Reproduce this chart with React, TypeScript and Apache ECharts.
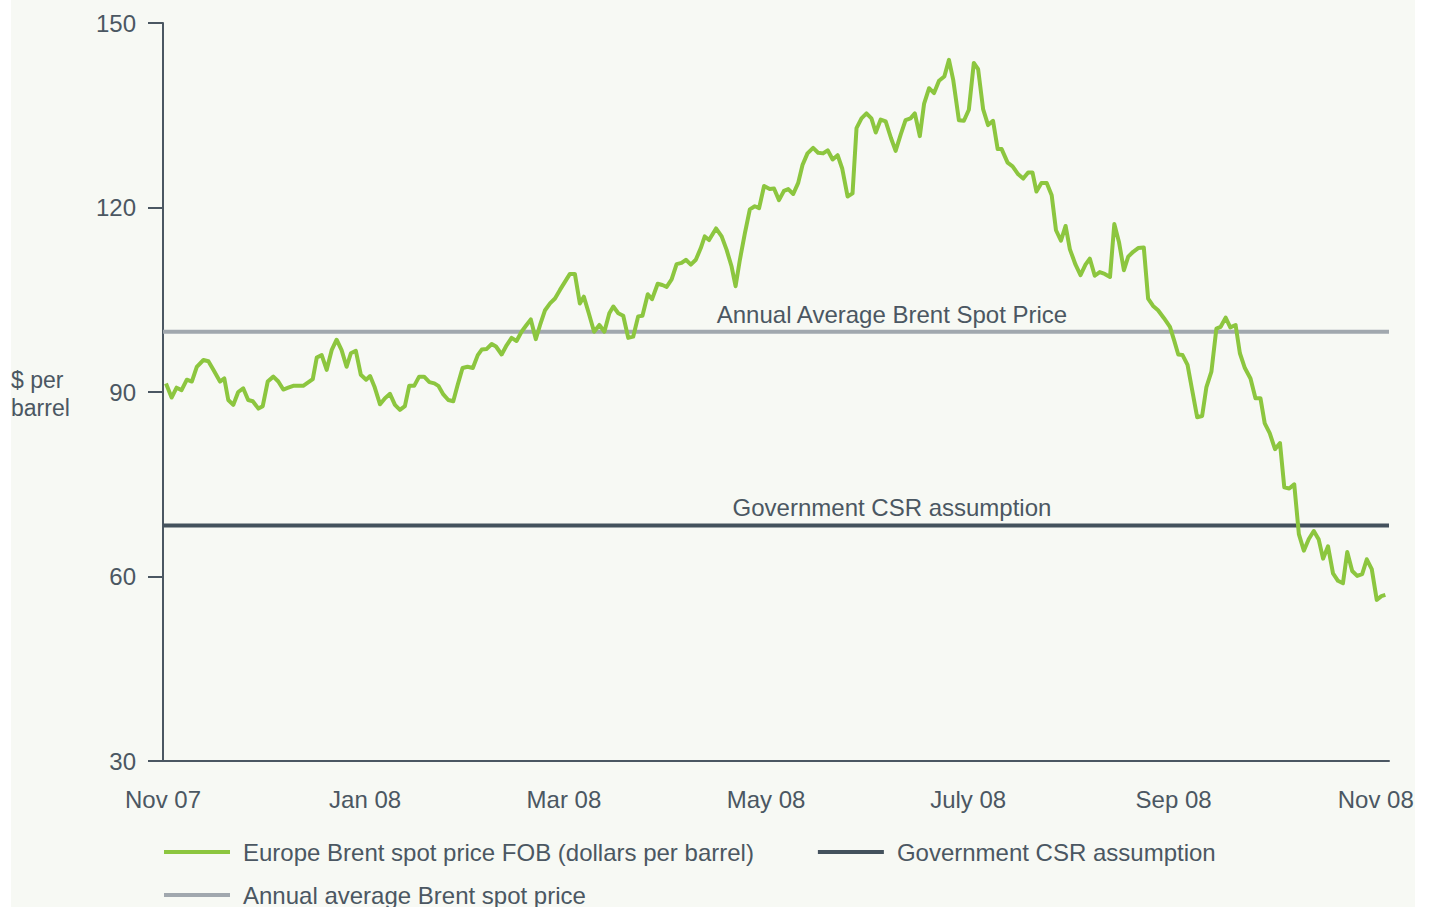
import React, { useEffect, useRef } from "react";
import * as echarts from "echarts";

// Days since 1 Nov 2007 and Brent spot price (US$ per barrel)
const brentDays: number[] = [
  0.9, 2.6, 4.1, 5.6, 7.2, 8.7, 10.2, 12.2, 13.7, 15.2, 17.2, 18.5, 19.7, 21.2, 22.7, 24.2, 25.7, 27.1, 28.8, 30.1,
  31.6, 33.3, 34.8, 36.3, 37.8, 39.3, 42.3, 45.2, 46.4, 47.9, 49.4, 50.9, 52.4, 53.9, 55.4, 56.7, 58.2, 59.7, 61.3,
  62.5, 63.8, 65.5, 67.0, 68.5, 70.0, 71.5, 73.0, 74.3, 75.8, 77.3, 78.8, 80.4, 81.9, 83.1, 84.6, 86.1, 87.6, 88.9,
  90.4, 91.9, 93.5, 95.0, 96.2, 97.7, 99.2, 100.5, 102.2, 103.7, 105.2, 106.7, 108.2, 109.7, 111.0, 112.5, 113.8,
  115.3, 116.8, 118.3, 119.8, 121.3, 122.8, 124.3, 125.8, 127.0, 128.5, 130.1, 131.7, 133.2, 134.7, 135.9, 137.4,
  138.9, 140.4, 141.9, 143.4, 144.7, 146.3, 147.6, 149.3, 150.7, 152.0, 153.5, 155.0, 156.5, 157.8, 159.3, 160.8,
  162.3, 163.5, 164.8, 166.9, 168.6, 170.1, 171.6, 172.8, 174.1, 175.6, 177.1, 178.6, 179.9, 181.4, 183.1, 184.4,
  185.9, 187.4, 188.7, 190.2, 191.7, 193.0, 194.5, 196.2, 197.7, 199.2, 200.6, 202.1, 203.6, 205.0, 206.6, 208.1,
  209.3, 210.8, 212.3, 213.8, 215.1, 216.6, 218.1, 219.7, 221.1, 222.6, 224.1, 225.6, 226.9, 228.4, 229.7, 231.2,
  232.7, 234.2, 235.8, 237.2, 238.5, 240.2, 241.7, 243.2, 244.7, 246.0, 247.5, 249.0, 250.5, 251.9, 253.1, 254.9,
  256.4, 258.1, 259.6, 261.1, 262.4, 263.6, 265.1, 266.7, 268.2, 269.5, 271.0, 272.4, 273.7, 275.4, 276.9, 278.4,
  279.7, 281.2, 282.7, 284.2, 285.8, 287.1, 288.5, 290.0, 291.3, 292.8, 294.3, 296.0, 297.3, 298.8, 300.3, 302.1,
  303.9, 305.2, 306.4, 307.7, 309.2, 310.6, 312.1, 313.6, 314.9, 316.4, 317.9, 319.2, 320.7, 322.1, 323.7, 325.0,
  326.5, 328.2, 329.7, 331.2, 332.5, 334.0, 335.6, 337.1, 338.4, 339.9, 341.4, 342.8, 344.3, 345.8, 347.3, 348.8,
  350.1, 351.6, 353.1, 354.6, 356.1, 357.4, 358.9, 360.4, 361.9, 363.3, 364.8, 366.3, 367.7, 368.9,
];
const brentPrices: number[] = [
  91.4, 89.1, 90.7, 90.3, 92.0, 91.7, 94.1, 95.2, 95.0, 93.6, 91.7, 92.2, 88.7, 87.9, 90.0, 90.6, 88.7, 88.5, 87.3, 87.7,
  91.7, 92.5, 91.7, 90.4, 90.7, 91.0, 91.0, 92.1, 95.6, 96.0, 93.6, 96.8, 98.5, 96.8, 94.1, 96.3, 96.7, 92.8, 92.0,
  92.6, 90.9, 88.0, 89.0, 89.7, 87.9, 87.1, 87.7, 91.0, 91.0, 92.5, 92.5, 91.6, 91.4, 91.0, 89.6, 88.7, 88.5, 91.1,
  93.9, 94.1, 93.9, 96.0, 96.9, 97.0, 97.8, 97.4, 96.1, 97.6, 98.8, 98.3, 99.8, 100.9, 101.8, 98.6, 100.9,
  103.3, 104.4, 105.2, 106.6, 107.9, 109.2, 109.2, 104.4, 105.5, 102.8, 99.8, 100.9, 99.8, 102.8, 103.9, 102.8,
  102.4, 98.8, 99.0, 102.3, 102.4, 105.9, 105.1, 107.6, 107.4, 107.1, 108.3, 110.8, 111.0, 111.5, 110.7, 111.5,
  113.4, 115.3, 114.7, 116.6, 115.3, 113.1, 110.4, 107.2, 111.5, 115.8, 119.7, 120.2, 119.9, 123.5, 123.0, 123.1,
  121.2, 122.7, 123.0, 122.2, 124.0, 126.9, 128.8, 129.7, 128.9, 128.8, 129.3, 127.8, 128.5, 126.3, 121.8, 122.3,
  132.9, 134.5, 135.3, 134.5, 132.2, 134.3, 134.0, 131.3, 129.2, 131.8, 134.2, 134.5, 135.3, 131.6, 136.9, 139.4,
  138.6, 140.6, 141.3, 144.0, 140.7, 134.2, 134.1, 135.9, 143.5, 142.5, 136.0, 133.4, 134.1, 129.5, 129.5, 127.3,
  126.7, 125.4, 124.7, 125.7, 125.7, 122.6, 124.0, 124.0, 122.0, 116.3, 114.6, 117.0, 113.2, 110.7, 109.0, 110.7,
  111.7, 108.9, 109.5, 109.2, 108.7, 117.3, 114.4, 109.8, 112.0, 112.8, 113.4, 113.5, 105.2, 104.0, 103.3, 102.0,
  100.6, 98.3, 96.1, 96.0, 94.4, 90.3, 85.9, 86.1, 90.8, 93.3, 100.3, 100.6, 102.1, 100.5, 100.9, 96.3,
  93.9, 92.2, 89.0, 89.0, 84.9, 83.3, 80.7, 81.7, 74.5, 74.3, 75.0, 66.9, 64.2, 66.1, 67.4, 66.0,
  62.9, 64.9, 60.5, 59.3, 58.9, 64.0, 60.9, 60.1, 60.4, 62.8, 61.2, 56.2, 56.8, 57.0,
];

const annualAverage = 99.8;
const csrAssumption = 68.3;
const refLineDays: number[] = [0, 220, 370];

const monthTickDays: number[] = [0, 61, 121, 182, 243, 305, 366];
const monthTickLabels: string[] = ["Nov 07", "Jan 08", "Mar 08", "May 08", "July 08", "Sep 08", "Nov 08"];

const yTicks: number[] = [30, 60, 90, 120, 150];

const seriesNames = {
  brent: "Europe Brent spot price FOB (dollars per barrel)",
  csr: "Government CSR assumption",
  annual: "Annual average Brent spot price",
};

const TEXT = "#4b5762";
const FONT = "'Liberation Sans', Arial, sans-serif";

export default function App() {
  const ref = useRef<HTMLDivElement>(null);

  useEffect(() => {
    if (!ref.current) return;
    const chart = echarts.init(ref.current, undefined, { renderer: "svg" });

    const brentData = brentDays.map((d, i) => [d, brentPrices[i]]);
    const refLine = (value: number, labelText: string, dist: number) =>
      refLineDays.map((d, i) =>
        i === 1
          ? {
              value: [d, value],
              label: {
                show: true,
                position: "top",
                distance: dist,
                formatter: labelText,
                color: TEXT,
                fontSize: 24,
                fontFamily: FONT,
              },
            }
          : { value: [d, value] }
      );

    chart.setOption({
      animation: false,
      backgroundColor: "#ffffff",
      textStyle: { fontFamily: FONT },
      graphic: [
        {
          type: "rect",
          z: -10,
          silent: true,
          shape: { x: 11, y: 0, width: 1404, height: 907 },
          style: { fill: "#f7f9f4" },
        },
        {
          type: "text",
          left: 11,
          top: 366,
          silent: true,
          style: {
            text: "$ per\nbarrel",
            fill: TEXT,
            fontSize: 23,
            lineHeight: 28,
            fontFamily: FONT,
          },
        },
      ],
      grid: { left: 163, right: 43, top: 23, bottom: 146, containLabel: false },
      xAxis: {
        type: "value",
        min: 0,
        max: 370,
        axisLine: { show: true, lineStyle: { color: "#4b5762", width: 2 } },
        axisTick: { show: false },
        splitLine: { show: false },
        axisLabel: {
          customValues: monthTickDays,
          formatter: (v: number) => {
            const idx = monthTickDays.indexOf(Math.round(v));
            return idx >= 0 ? monthTickLabels[idx] : "";
          },
          color: TEXT,
          fontSize: 24,
          fontFamily: FONT,
          margin: 26,
          showMinLabel: true,
          showMaxLabel: true,
        },
      },
      yAxis: {
        type: "value",
        min: 30,
        max: 150,
        interval: 30,
        axisLine: { show: true, lineStyle: { color: "#4b5762", width: 2 } },
        axisTick: { show: true, inside: false, length: 15, lineStyle: { color: "#4b5762", width: 2 } },
        splitLine: { show: false },
        axisLabel: {
          color: TEXT,
          fontSize: 24,
          fontFamily: FONT,
          margin: 27,
          formatter: (v: number) => (yTicks.includes(v) ? String(v) : ""),
        },
      },
      legend: [
        {
          data: [seriesNames.brent, seriesNames.csr],
          left: 164,
          top: 840,
          padding: 0,
          icon: "rect",
          itemWidth: 66,
          itemHeight: 4,
          itemGap: 64,
          textStyle: { color: TEXT, fontSize: 24, fontFamily: FONT, padding: [0, 0, 0, 8] },
          selectedMode: false,
        },
        {
          data: [seriesNames.annual],
          left: 164,
          top: 883,
          padding: 0,
          icon: "rect",
          itemWidth: 66,
          itemHeight: 4,
          textStyle: { color: TEXT, fontSize: 24, fontFamily: FONT, padding: [0, 0, 0, 8] },
          selectedMode: false,
        },
      ],
      series: [
        {
          name: seriesNames.annual,
          type: "line",
          silent: true,
          symbol: "circle",
          symbolSize: 0.1,
          showSymbol: true,
          lineStyle: { color: "#a1a8ae", width: 4 },
          itemStyle: { color: "#a1a8ae" },
          data: refLine(annualAverage, "Annual Average Brent Spot Price", 5),
          z: 2,
        },
        {
          name: seriesNames.csr,
          type: "line",
          silent: true,
          symbol: "circle",
          symbolSize: 0.1,
          showSymbol: true,
          lineStyle: { color: "#44525d", width: 4 },
          itemStyle: { color: "#44525d" },
          data: refLine(csrAssumption, "Government CSR assumption", 6),
          z: 2,
        },
        {
          name: seriesNames.brent,
          type: "line",
          silent: true,
          symbol: "none",
          lineStyle: { color: "#8cc63f", width: 4, join: "round" },
          itemStyle: { color: "#8cc63f" },
          data: brentData,
          z: 3,
        },
      ],
    });

    return () => chart.dispose();
  }, []);

  return (
    <div
      ref={ref}
      style={{ position: "fixed", left: 0, top: 0, width: 1432, height: 907 }}
    />
  );
}
